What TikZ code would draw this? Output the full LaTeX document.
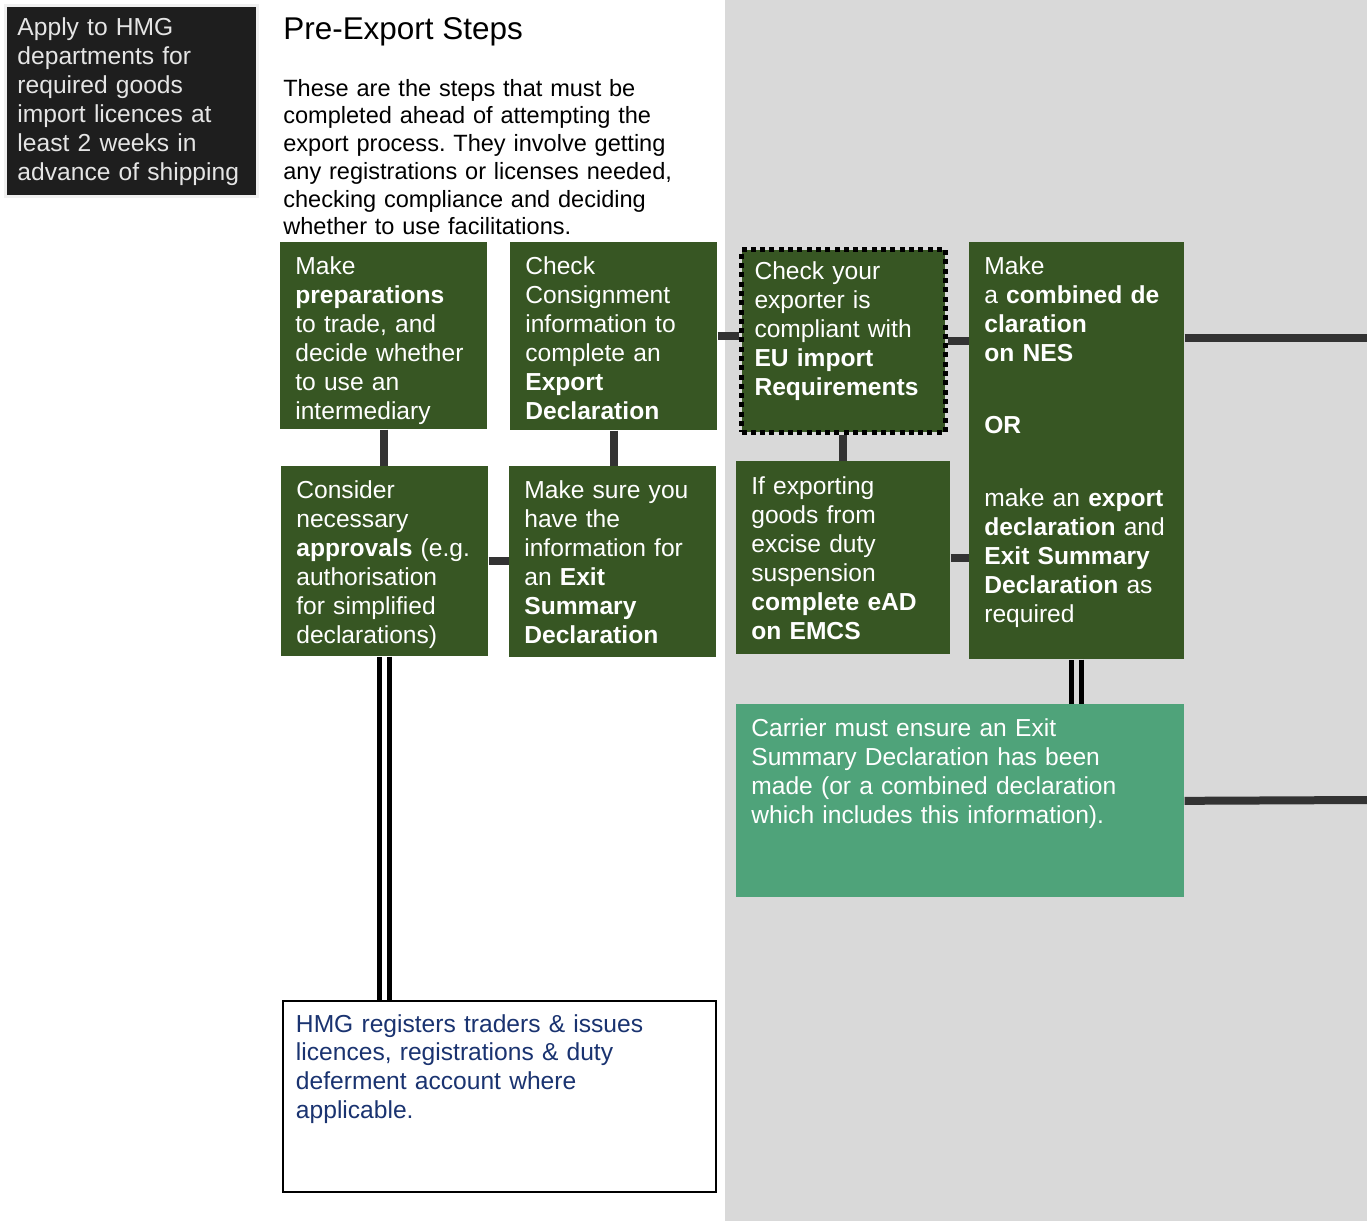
\documentclass[tikz,border=0pt]{standalone}
\usepackage{fontspec}
\setmainfont{Liberation Sans}
\usepackage{xcolor}
\usepackage{tikz}
\usetikzlibrary{positioning, arrows.meta, shapes.geometric}
\frenchspacing

\definecolor{stepgreen}{HTML}{375623}
\definecolor{carriergreen}{HTML}{4FA37A}
\definecolor{panelgray}{HTML}{D9D9D9}
\definecolor{linkgray}{HTML}{333333}
\definecolor{hmgblue}{HTML}{1A3370}
\definecolor{noteblack}{HTML}{1E1E1E}

\begin{document}
\begin{tikzpicture}[
    x=0.02cm, y=-0.02cm,
    txt/.style={font=\fontsize{14.0}{16.5}\selectfont},
    gbox/.style={txt, fill=stepgreen, text=white, anchor=north west, align=left, inner xsep=0.30cm, inner ysep=0pt, text height=0.64cm},
    link/.style={draw=linkgray, line width=0.16cm},
    dbl/.style={draw=black, line width=0.1cm, double distance=0.1cm}
]
\useasboundingbox (0,0) rectangle (1367,1221);
\fill[panelgray] (725,0) rectangle (1367,1221);

\node[txt, fill=noteblack, draw=gray!12, line width=0.06cm, text=white!90!black, anchor=north west, align=left, inner xsep=0.24cm, inner ysep=0pt, text width=4.56cm, text height=0.60cm, text depth=3.22cm] (apply) at (4,4) {Apply to HMG\\departments for\\required goods\\import licences at\\least 2 weeks in\\advance of shipping};

\node[font=\fontsize{17.9}{21}\selectfont, anchor=base west, inner sep=0pt] (title) at (283,39) {Pre-Export Steps};
\node[font=\fontsize{13.4}{15.8}\selectfont, anchor=base west, inner sep=0pt, text width=9cm, align=left] (intro) at (283,96) {These are the steps that must be\\completed ahead of attempting the\\export process. They involve getting\\any registrations or licenses needed,\\checking compliance and deciding\\whether to use facilitations.};

\node[gbox, text width=3.54cm, text depth=3.10cm] (prep) at (280,242) {Make\\\textbf{preparations}\\to trade, and\\decide whether\\to use an\\intermediary};
\node[gbox, text width=3.54cm, text depth=3.12cm] (consign) at (510,242) {Check\\Consignment\\information to\\complete an\\\textbf{Export}\\\textbf{Declaration}};
\node[gbox, draw=black, line width=0.1cm, dash pattern=on 0.1cm off 0.086cm, inner xsep=0.26cm, text width=3.56cm, text height=0.60cm, text depth=3.06cm] (euimport) at (739,247) {Check your\\exporter is\\compliant with\\\textbf{EU import}\\\textbf{Requirements}};
\node[gbox, text width=3.70cm, text depth=7.70cm] (nes) at (969,242) {Make\\a \textbf{combined de}\\\textbf{claration}\\\textbf{on NES}\\[0.87cm]\textbf{OR}\\[0.87cm]make an \textbf{export}\\\textbf{declaration} and\\\textbf{Exit Summary}\\\textbf{Declaration} as\\required};
\node[gbox, text width=3.54cm, text depth=3.16cm] (approve) at (281,466) {Consider\\necessary\\\textbf{approvals} (e.g.\\authorisation\\for simplified\\declarations)};
\node[gbox, text width=3.54cm, text depth=3.18cm] (exitinfo) at (509,466) {Make sure you\\have the\\information for\\an \textbf{Exit}\\\textbf{Summary}\\\textbf{Declaration}};
\node[gbox, text width=3.68cm, text height=0.66cm, text depth=3.20cm] (excise) at (736,461) {If exporting\\goods from\\excise duty\\suspension\\\textbf{complete eAD}\\\textbf{on EMCS}};
\node[gbox, fill=carriergreen, text width=8.36cm, text depth=3.22cm] (carrier) at (736,704) {Carrier must ensure an Exit\\Summary Declaration has been\\made (or a combined declaration\\which includes this information).};
\node[txt, fill=white, draw=black, line width=0.04cm, text=hmgblue, anchor=north west, align=left, inner xsep=0.26cm, inner ysep=0pt, text width=8.14cm, text height=0.62cm, text depth=3.20cm] (hmg) at (282,1000) {HMG registers traders \& issues\\licences, registrations \& duty\\deferment account where\\applicable.};

\coordinate (edgetop) at (1367,338);
\coordinate (edgelow) at (1367,800);

\draw[link] (prep.south) -- (prep.south |- approve.north);
\draw[link] (consign.south) -- (consign.south |- exitinfo.north);
\draw[link] (approve.east) -- (approve.east -| exitinfo.west);
\draw[link] (consign.east) -- (consign.east -| euimport.west);
\draw[link] (euimport.east) -- (euimport.east -| nes.west);
\draw[link] (euimport.south) -- (euimport.south |- excise.north);
\draw[link] (excise.east) -- (excise.east -| nes.west);
\draw[link] (nes.east |- edgetop) -- (edgetop);
\draw[link] (carrier.east) -- (edgelow);
\draw[dbl, double=white] (approve.south) -- (approve.south |- hmg.north);
\draw[dbl, double=panelgray] (nes.south) -- (nes.south |- carrier.north);
\end{tikzpicture}
\end{document}
